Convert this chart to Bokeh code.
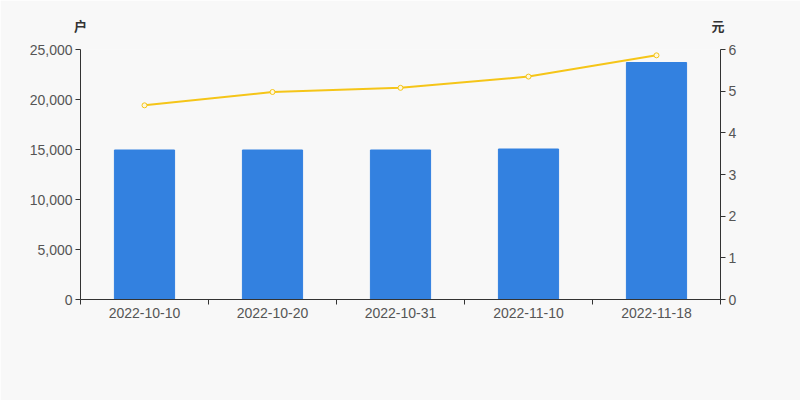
from bokeh.plotting import figure
from bokeh.models import Range1d, LinearAxis, FixedTicker, NumeralTickFormatter, ColumnDataSource
from bokeh.embed import file_html
from bokeh.resources import INLINE

dates = ["2022-10-10", "2022-10-20", "2022-10-31", "2022-11-10", "2022-11-18"]
holders = [14950, 14950, 14950, 15050, 23700]
prices = [4.66, 4.98, 5.08, 5.35, 5.86]
left_ticks = [0, 5000, 10000, 15000, 20000, 25000]
right_ticks = [0, 1, 2, 3, 4, 5, 6]
units = ["户", "元"]

xs = [i + 0.5 for i in range(len(dates))]
src = ColumnDataSource(dict(x=xs, h=holders, p=prices))

BG = "#f8f8f8"
FONT = "Liberation Sans"
AX = "#333333"
LAB = "#555555"

p = figure(width=800, height=400, output_backend="svg", toolbar_location=None,
           x_range=Range1d(0, len(dates)), y_range=Range1d(0, 25000),
           background_fill_color=BG, border_fill_color=BG,
           min_border_left=80, min_border_right=80, min_border_top=49, min_border_bottom=101,
           y_axis_location=None, x_axis_location=None, outline_line_color=None)
p.xgrid.visible = False
p.ygrid.visible = False
p.extra_y_ranges = {"right": Range1d(0, 6)}

p.vbar(x="x", top="h", width=0.47, source=src, color="#3381e0")
p.line(x="x", y="p", source=src, y_range_name="right", line_color="#f5c518", line_width=2)
p.scatter(x="x", y="p", source=src, y_range_name="right", size=5,
          fill_color="#fff8dc", line_color="#f5c518", line_width=1)

def style(ax):
    ax.axis_line_color = AX
    ax.major_tick_line_color = AX
    ax.major_tick_out = 5
    ax.major_tick_in = 0
    ax.minor_tick_line_color = None
    ax.major_label_text_font = FONT
    ax.major_label_text_font_size = "14px"
    ax.major_label_text_color = LAB
    ax.major_label_standoff = 3

ly = LinearAxis(ticker=FixedTicker(ticks=left_ticks), formatter=NumeralTickFormatter(format="0,0"))
style(ly)
p.add_layout(ly, "left")

ry = LinearAxis(y_range_name="right", ticker=FixedTicker(ticks=right_ticks))
style(ry)
p.add_layout(ry, "right")

xa = LinearAxis(ticker=FixedTicker(ticks=xs, minor_ticks=list(range(len(dates) + 1))),
                major_label_overrides={x: d for x, d in zip(xs, dates)})
style(xa)
xa.major_tick_line_color = None
xa.minor_tick_line_color = AX
xa.minor_tick_out = 5
xa.minor_tick_in = 0
xa.major_label_standoff = 3
p.add_layout(xa, "below")

ua = LinearAxis(ticker=FixedTicker(ticks=[0, len(dates) - 0.02]),
                major_label_overrides={0: units[0], len(dates) - 0.02: units[1]})
ua.axis_line_color = None
ua.major_tick_line_color = None
ua.minor_tick_line_color = None
ua.major_label_text_font = "Noto Sans CJK SC"
ua.major_label_text_font_size = "13px"
ua.major_label_text_font_style = "bold"
ua.major_label_text_color = AX
ua.major_label_standoff = 9
p.add_layout(ua, "above")

open("out.html", "w").write(file_html(p, INLINE))
